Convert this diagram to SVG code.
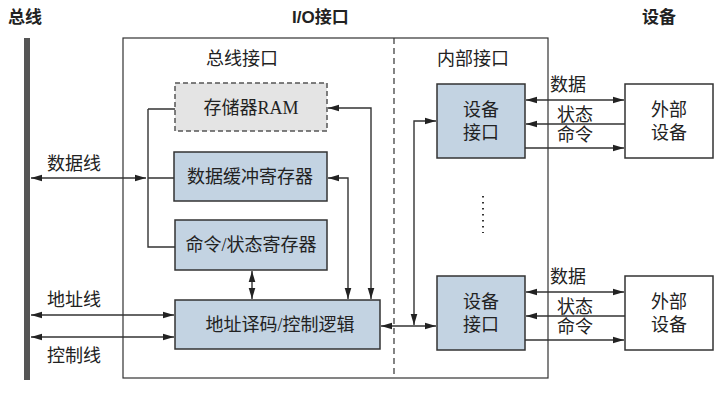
<svg xmlns="http://www.w3.org/2000/svg" width="728" height="400" viewBox="0 0 728 400">
<style>
text{font-family:"Liberation Serif","Noto Sans CJK SC",serif;font-size:18px;fill:#222}
.t{font-family:"Liberation Sans","Noto Sans CJK SC",sans-serif;font-weight:bold;font-size:17px}
.b{fill:#c3d3e2;stroke:#333;stroke-width:1.5}
.w{fill:#fff;stroke:#333;stroke-width:1.5}
.l{fill:none;stroke:#333;stroke-width:1.4}
</style>
<defs>
<marker id="a" viewBox="0 0 10 10" refX="10" refY="5" markerWidth="8" markerHeight="8" orient="auto-start-reverse"><path d="M0,2 L10,5 L0,8z" fill="#222"/></marker>
</defs>
<rect x="0" y="0" width="728" height="400" fill="#fff"/>
<text class="t" x="8" y="23">总线</text>
<text class="t" x="292" y="23">I/O接口</text>
<text class="t" x="642" y="23">设备</text>
<rect x="24" y="38" width="6" height="342" fill="#555"/>
<rect x="123" y="38" width="425" height="340" class="w" style="stroke-width:1.2"/>
<line x1="394" y1="38" x2="394" y2="378" stroke="#333" stroke-width="1.2" stroke-dasharray="6,4"/>
<text x="206" y="65">总线接口</text>
<text x="437" y="65">内部接口</text>
<text x="47" y="170">数据线</text>
<text x="47" y="306">地址线</text>
<text x="47" y="362">控制线</text>
<text x="550" y="91">数据</text>
<text x="557" y="121">状态</text>
<text x="557" y="141">命令</text>
<text x="550" y="283">数据</text>
<text x="557" y="313">状态</text>
<text x="557" y="333">命令</text>
<g id="connectors" class="l">
<path d="M148,109 H175 M148,109 V247 H175 M148,178 H174"/>
<line x1="31" y1="178" x2="146" y2="178" marker-start="url(#a)" marker-end="url(#a)"/>
<path d="M328,108 H371 V299" marker-start="url(#a)" marker-end="url(#a)"/>
<path d="M328,178 H348 V299" marker-start="url(#a)" marker-end="url(#a)"/>
<line x1="252" y1="271" x2="252" y2="299" marker-start="url(#a)" marker-end="url(#a)"/>
<line x1="31" y1="315" x2="174" y2="315" marker-start="url(#a)" marker-end="url(#a)"/>
<line x1="31" y1="337" x2="174" y2="337" marker-start="url(#a)" marker-end="url(#a)"/>
<line x1="381" y1="326" x2="436" y2="326" marker-start="url(#a)" marker-end="url(#a)"/>
<path d="M436,121 H414 V325" marker-start="url(#a)" marker-end="url(#a)"/>
<line x1="526" y1="100" x2="624" y2="100" marker-start="url(#a)" marker-end="url(#a)"/>
<line x1="625" y1="124" x2="526" y2="124" marker-end="url(#a)"/>
<line x1="525" y1="148" x2="624" y2="148" marker-end="url(#a)"/>
<line x1="526" y1="292" x2="624" y2="292" marker-start="url(#a)" marker-end="url(#a)"/>
<line x1="625" y1="316" x2="526" y2="316" marker-end="url(#a)"/>
<line x1="525" y1="340" x2="624" y2="340" marker-end="url(#a)"/>
</g>
<line x1="483" y1="196" x2="483" y2="233" stroke="#333" stroke-width="2" stroke-dasharray="1.5,4.5"/>
<g id="ram"><rect x="175" y="83" width="152" height="48" fill="#e4e4e4" stroke="#555" stroke-width="1.5" stroke-dasharray="5,3"/><text x="251" y="114" text-anchor="middle">存储器RAM</text></g>
<g id="databuf"><rect x="174" y="152" width="153" height="49" class="b"/><text x="250" y="183" text-anchor="middle">数据缓冲寄存器</text></g>
<g id="cmdreg"><rect x="175" y="220" width="152" height="50" class="b"/><text x="251" y="251" text-anchor="middle">命令/状态寄存器</text></g>
<g id="addr"><rect x="175" y="300" width="205" height="49" class="b"/><text x="280" y="331" text-anchor="middle">地址译码/控制逻辑</text></g>
<g id="dev1"><rect x="437" y="84" width="88" height="74" class="b"/><text x="481" y="116" text-anchor="middle">设备</text><text x="481" y="139" text-anchor="middle">接口</text></g>
<g id="dev2"><rect x="437" y="276" width="88" height="74" class="b"/><text x="481" y="308" text-anchor="middle">设备</text><text x="481" y="331" text-anchor="middle">接口</text></g>
<g id="ext1"><rect x="625" y="84" width="88" height="74" class="w"/><text x="669" y="116" text-anchor="middle">外部</text><text x="669" y="139" text-anchor="middle">设备</text></g>
<g id="ext2"><rect x="625" y="276" width="88" height="74" class="w"/><text x="669" y="308" text-anchor="middle">外部</text><text x="669" y="331" text-anchor="middle">设备</text></g>
</svg>
